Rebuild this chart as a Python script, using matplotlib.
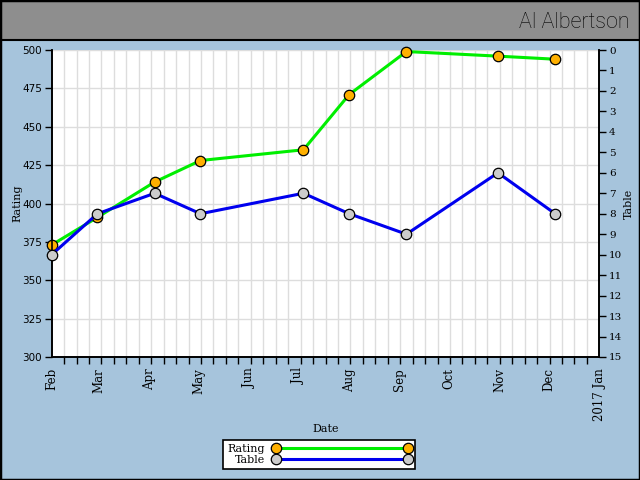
import matplotlib
matplotlib.use("Agg")
import matplotlib.pyplot as plt
import matplotlib.dates as mdates
from matplotlib.patches import Rectangle
from matplotlib.lines import Line2D
import numpy as np
import datetime as dt

# ---- data ----
dates = ["2016-02-01", "2016-02-29", "2016-04-04", "2016-05-02", "2016-07-04",
         "2016-08-01", "2016-09-05", "2016-10-31", "2016-12-05"]
rating = [373, 391, 414, 428, 435, 471, 499, 496, 494]
table = [10, 8, 7, 8, 7, 8, 9, 6, 8]
rating_ticks = [300, 325, 350, 375, 400, 425, 450, 475, 500]
table_ticks = list(range(0, 16))
title = "Al Albertson"

x = [dt.datetime.strptime(d, "%Y-%m-%d") for d in dates]
x_start = dt.datetime(2016, 2, 1)
x_end = dt.datetime(2017, 1, 1)

BG = "#a6c4dc"
BAR = "#8e8e8e"
SERIF = ["DejaVu Serif"]

fig = plt.figure(figsize=(6.4, 4.8), dpi=100, facecolor=BG)
# title bar
fig.patches.append(Rectangle((0, 1 - 40 / 480), 1, 40 / 480, transform=fig.transFigure,
                             facecolor=BAR, edgecolor="black", lw=1.5, zorder=0))
fig.patches.append(Rectangle((0, 0), 1, 1, transform=fig.transFigure, fill=False,
                             edgecolor="black", lw=2.5, zorder=5))
fig.text(0.984, 1 - 22 / 480, title, ha="right", va="center", fontsize=15.5,
         family=["Liberation Sans Narrow", "Roboto", "DejaVu Sans"], weight="light",
         color="black")

ax = fig.add_axes([51.7 / 640, 1 - 357 / 480, (599.3 - 51.7) / 640, (357 - 50) / 480])
ax.set_facecolor("white")
ax2 = ax.twinx()

ax.plot(x, rating, color="#00ee00", lw=2.2, marker="o", markersize=7.5,
        markerfacecolor="#ffb000", markeredgecolor="black", markeredgewidth=0.9,
        label="Rating", clip_on=False, zorder=3)
ax2.plot(x, table, color="#0000ee", lw=2.2, marker="o", markersize=7.5,
         markerfacecolor="#cccccc", markeredgecolor="black", markeredgewidth=0.9,
         label="Table", clip_on=False, zorder=3)

ax.set_xlim(x_start, x_end)
ax.set_ylim(300, 500)
ax2.set_ylim(15, 0)
ax.set_yticks(rating_ticks)
ax2.set_yticks(table_ticks)

# month ticks
months = [dt.datetime(2016, m, 1) for m in range(2, 13)] + [dt.datetime(2017, 1, 1)]
labels = [m.strftime("%b") for m in months[:-1]] + ["2017 Jan"]
ax.set_xticks(months)
ax.set_xticklabels(labels, rotation=90, family=SERIF, fontsize=8.5)
ax.tick_params(axis="x", which="major", length=0, pad=8)
n0, n1 = mdates.date2num(x_start), mdates.date2num(x_end)
ax.set_xticks(np.linspace(n0, n1, 45), minor=True)
ax.tick_params(axis="x", which="minor", length=5, width=1, direction="out", color="black")

ax.tick_params(axis="y", length=5, width=1, labelsize=7.5, pad=2)
ax2.tick_params(axis="y", length=5, width=1, labelsize=7.5, pad=2)
for lab in ax2.get_yticklabels():
    lab.set_family(SERIF)

ax.grid(True, which="minor", axis="x", color="#dddddd", lw=1)
ax.grid(True, which="major", axis="y", color="#dddddd", lw=1)
ax.grid(False, which="major", axis="x")
ax.set_axisbelow(True)

for a in (ax, ax2):
    a.spines["top"].set_visible(False)
    for s in ("left", "right", "bottom"):
        a.spines[s].set_linewidth(1.2)

ax.set_ylabel("Rating", family=SERIF, fontsize=8, labelpad=0)
ax2.set_ylabel("Table", family=SERIF, fontsize=8, labelpad=1)
ax.set_xlabel("Date", family=SERIF, fontsize=8, labelpad=2)

h1 = Line2D([], [], color="#00ee00", lw=2.2, marker="o", markersize=7.5,
            markerfacecolor="#ffb000", markeredgecolor="black", markeredgewidth=0.9)
h2 = Line2D([], [], color="#0000ee", lw=2.2, marker="o", markersize=7.5,
            markerfacecolor="#cccccc", markeredgecolor="black", markeredgewidth=0.9)
leg = fig.legend([h1, h2], ["Rating", "Table"], loc="center", bbox_to_anchor=(0.499, 0.053),
                 numpoints=2, handlelength=12.5, markerfirst=False, fancybox=False,
                 framealpha=1, edgecolor="black", prop={"family": SERIF, "size": 8},
                 borderpad=0.35, labelspacing=0.1, handletextpad=0.7, borderaxespad=0)
leg.get_frame().set_linewidth(1.2)

fig.savefig("out.png", dpi=100, facecolor=BG)
